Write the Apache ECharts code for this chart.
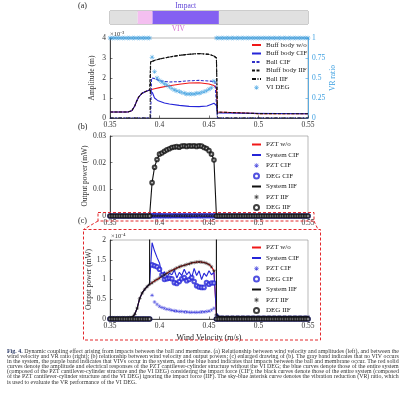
<!DOCTYPE html>
<html>
<head>
<meta charset="utf-8">
</head>
<body style="margin:0; background:#fff">
<div id="container" style="width:405px;height:399px"></div>
<script src="https://cdn.jsdelivr.net/npm/echarts@6/dist/echarts.min.js"></script>
<script>
var FONT = 'Liberation Serif';

// wind velocity sweeps (m/s): before impact, impact range, after impact
var vPre = [0.35,0.3525,0.355,0.3575,0.36,0.3625,0.365,0.3675,0.37,0.3725,0.375,0.3775,0.38,0.3825,0.385,0.3875,0.39];
var vImp = [0.3925,0.395,0.3975,0.4,0.4025,0.405,0.4075,0.41,0.4125,0.415,0.4175,0.42,0.4225,0.425,0.4275,0.43,0.4325,0.435,0.4375,0.44,0.4425,0.445,0.4475,0.45,0.4525,0.455];
var vPost = [0.4575,0.46,0.4625,0.465,0.4675,0.47,0.4725,0.475,0.4775,0.48,0.4825,0.485,0.4875,0.49,0.4925,0.495,0.4975,0.5,0.5025,0.505,0.5075,0.51,0.5125,0.515,0.5175,0.52,0.5225,0.525,0.5275,0.53,0.5325,0.535,0.5375,0.54,0.5425,0.545,0.5475,0.55];

// regime band: VIV and impact ranges
var vivRange = [0.378, 0.46];
var impactRange = [0.393, 0.46];

// (a) amplitudes, x1e-3 m, [velocity, amplitude]
var bodyWo = [[0.35,0.3],[0.368,0.3],[0.372,0.36],[0.375,0.6],[0.377,0.85],[0.379,1.05],[0.382,1.22],[0.386,1.33],[0.39,1.4],[0.395,1.46],[0.4,1.52],[0.41,1.61],[0.42,1.69],[0.43,1.75],[0.44,1.76],[0.45,1.7],[0.455,1.62],[0.4575,1.5],[0.4585,0.3],[0.46,0.25],[0.5,0.22],[0.55,0.21]];
var bodyCif = [[0.35,0.3],[0.368,0.3],[0.372,0.36],[0.375,0.6],[0.377,0.85],[0.379,1.05],[0.382,1.22],[0.386,1.33],[0.39,1.4],[0.3915,1.5],[0.393,1.25],[0.395,1.0],[0.398,0.88],[0.4,0.82],[0.405,0.75],[0.41,0.7],[0.42,0.63],[0.43,0.58],[0.44,0.57],[0.448,0.6],[0.452,0.68],[0.455,0.74],[0.4575,0.62],[0.4585,0.25],[0.46,0.23],[0.55,0.21]];
var ballCif = [[0.35,0],[0.391,0],[0.392,2.0],[0.395,1.97],[0.4,1.86],[0.41,1.8],[0.42,1.82],[0.43,1.86],[0.44,1.88],[0.45,1.85],[0.456,1.82],[0.4575,1.8],[0.4585,0],[0.55,0]];
var bodyIif = [[0.35,0.3],[0.368,0.3],[0.372,0.36],[0.375,0.6],[0.377,0.85],[0.379,1.05],[0.382,1.22],[0.386,1.33],[0.39,1.4],[0.3905,1.42],[0.391,2.8],[0.395,2.88],[0.4,2.95],[0.41,3.05],[0.42,3.13],[0.43,3.19],[0.44,3.22],[0.45,3.18],[0.455,3.1],[0.4575,3.0],[0.4585,0.3],[0.46,0.25],[0.5,0.22],[0.55,0.21]];
var ballIif = [[0.35,0],[0.3905,0],[0.391,2.8],[0.395,2.88],[0.4,2.95],[0.41,3.05],[0.42,3.13],[0.43,3.19],[0.44,3.22],[0.45,3.18],[0.455,3.1],[0.4575,3.0],[0.4585,0],[0.55,0]];

// (a) VR ratio of the VI DEG
var vrPre = [1,1,1,1,1,1,1,1,1,1,1,1,1,1,1,1,1];
var vrImp = [0.76,0.58,0.5,0.47,0.45,0.43,0.41,0.39,0.37,0.35,0.34,0.33,0.32,0.31,0.3,0.3,0.3,0.3,0.31,0.31,0.32,0.33,0.34,0.36,0.38,0.46];
var vrPost = [1,1,1,1,1,1,1,1,1,1,1,1,1,1,1,1,1,1,1,1,1,1,1,1,1,1,1,1,1,1,1,1,1,1,1,1,1,1];

// (b)/(c) output powers, x1e-4 mW
var pztWoPre = [0.03,0.03,0.03,0.03,0.03,0.03,0.03,0.03,0.035,0.05,0.12,0.28,0.52,0.66,0.75,0.82,0.88];
var pztWoImp = [0.92,0.96,1.0,1.04,1.08,1.12,1.16,1.2,1.23,1.26,1.29,1.32,1.34,1.36,1.38,1.4,1.42,1.43,1.44,1.45,1.44,1.43,1.41,1.38,1.32,1.22];
var pztWoPost = [0.1,0.06,0.05,0.05,0.05,0.05,0.05,0.05,0.05,0.05,0.05,0.05,0.05,0.05,0.05,0.05,0.05,0.05,0.05,0.05,0.05,0.05,0.05,0.05,0.05,0.05,0.05,0.05,0.05,0.05,0.05,0.05,0.05,0.05,0.05,0.05,0.05,0.05];
var sysCifImp = [1.93,1.72,1.56,1.42,1.1,1.2,1.06,1.16,1.12,1.24,1.04,1.18,1.1,1.26,1.12,1.2,1.04,1.28,1.1,1.22,1.0,1.16,1.08,1.22,1.12,1.18];
var sysCifPost = [0.15,0.06,0.05,0.05,0.05,0.05,0.05,0.05,0.05,0.05,0.05,0.05,0.05,0.05,0.05,0.05,0.05,0.05,0.05,0.05,0.05,0.05,0.05,0.05,0.05,0.05,0.05,0.05,0.05,0.05,0.05,0.05,0.05,0.05,0.05,0.05,0.05,0.05];
var pztCifImp = [0.6,0.43,0.37,0.32,0.29,0.27,0.25,0.24,0.22,0.21,0.2,0.19,0.19,0.18,0.18,0.17,0.17,0.17,0.17,0.17,0.18,0.18,0.19,0.2,0.23,0.27];
var degCifImp = [1.37,1.35,1.32,1.26,1.12,1.0,1.02,1.03,1.02,0.92,0.9,0.95,1.02,1.05,0.97,1.0,1.05,0.95,0.84,0.81,0.8,0.8,0.92,0.88,0.91,0.91];
var degIifImp = [125,183,212,232,236,243,248,252,257,259,260,258,262,263,261,263,262,263,261,263,262,257,253,245,232,210];
var degPre = [0,0,0,0,0,0,0,0,0,0,0,0,0,0,0,0,0];
var degPost = [0,0,0,0,0,0,0,0,0,0,0,0,0,0,0,0,0,0,0,0,0,0,0,0,0,0,0,0,0,0,0,0,0,0,0,0,0,0];

var captionLines = [
  'Dynamic coupling effect arising from impacts between the ball and membrane. (a) Relationship between wind velocity and amplitudes (left), and between the',
  'wind velocity and VR ratio (right); (b) relationship between wind velocity and output powers; (c) enlarged drawing of (b). The gray band indicates that no VIV occurs',
  'in the system, the purple band indicates that VIVs occur in the system, and the blue band indicates that impacts between the ball and membrane occur. The red solid',
  'curves denote the amplitude and electrical responses of the PZT cantilever-cylinder structure without the VI DEG; the blue curves denote those of the entire system',
  '(composed of the PZT cantilever-cylinder structure and the VI DEG) considering the impact force (CIF); the black curves denote those of the entire system (composed',
  'of the PZT cantilever-cylinder structure and the VI DEG) ignoring the impact force (IIF). The sky-blue asterisk curve denotes the vibration reduction (VR) ratio, which',
  'is used to evaluate the VR performance of the VI DEG.'
];

function zip(xs, ys) {
  return xs.map(function (x, i) { return [x, ys[i]]; });
}

var RED = '#f01818', BLUE = '#2525d8', BLACK = '#111', SKY = '#3a9ee0';
var ASTER = 'path://M-1,-10L1,-10L1,10L-1,10Z M-10,-1L10,-1L10,1L-10,1Z M-6.3,-7.7L7.7,6.3L6.3,7.7L-7.7,-6.3Z M6.3,-7.7L7.7,-6.3L-6.3,7.7L-7.7,6.3Z';

var dom = document.getElementById('container');
var myChart = echarts.init(dom, null, { renderer: 'canvas' });

function xAx(idx, show) {
  return {
    type: 'value', gridIndex: idx, min: 0.35, max: 0.55, interval: 0.05,
    show: show,
    axisLine: { onZero: false, lineStyle: { color: '#222', width: 0.8 } },
    axisTick: { inside: true, length: 2.5, lineStyle: { color: '#222', width: 0.6 } },
    axisLabel: {
      fontFamily: FONT, fontSize: 7.5, color: '#333', margin: 3,
      formatter: function (v) { return String(Math.round(v * 100) / 100); }
    },
    splitLine: { show: false }
  };
}

function yAx(idx, max, interval, name, fmt, extra) {
  var ax = {
    type: 'value', gridIndex: idx, min: 0, max: max, interval: interval,
    name: name, nameLocation: 'middle', nameRotate: 90, nameGap: 14,
    nameTextStyle: { fontFamily: FONT, fontSize: 7.5, color: '#333' },
    axisLine: { show: true, lineStyle: { color: '#222', width: 0.8 } },
    axisTick: { inside: true, length: 2.5, lineStyle: { color: '#222', width: 0.6 } },
    axisLabel: { fontFamily: FONT, fontSize: 7.5, color: '#333', margin: 4, formatter: fmt },
    splitLine: { show: false }
  };
  for (var k in extra) ax[k] = extra[k];
  return ax;
}

function grid(top, height, border) {
  return {
    left: 110, right: 97, top: top, height: height, show: true,
    borderColor: border || '#8a8a8a', borderWidth: 0.6, backgroundColor: 'rgba(0,0,0,0)'
  };
}

function lineS(name, data, xi, yi, color, type, z) {
  return {
    name: name, type: 'line', xAxisIndex: xi, yAxisIndex: yi, data: data,
    showSymbol: false, symbol: 'none', animation: false, z: z || 2,
    lineStyle: { color: color, width: 1.1, type: type || 'solid' },
    itemStyle: { color: color }
  };
}
function scatS(name, data, xi, yi, color, symbol, size, z) {
  var empty = symbol === 'emptyCircle';
  return {
    name: name, type: 'scatter', xAxisIndex: xi, yAxisIndex: yi, data: data,
    symbol: symbol, symbolSize: size, animation: false, z: z || 3,
    itemStyle: empty ? { color: color, borderColor: color, borderWidth: 0.8 } : { color: color }
  };
}

var powerNames = ['PZT w/o', 'System CIF', 'PZT CIF', 'DEG CIF', 'System IIF', 'PZT IIF', 'DEG IIF'];
var lineNames = ['Buff body w/o', 'Buff body CIF', 'Ball CIF', 'Bluff body IIF', 'Ball IIF', 'PZT w/o', 'System CIF', 'System IIF'];

function powerSeries(xi, yi) {
  return [
    lineS('PZT w/o', zip(vPre, pztWoPre).concat(zip(vImp, pztWoImp), zip(vPost, pztWoPost)), xi, yi, RED, 'solid', 2),
    lineS('System CIF', zip(vPre, pztWoPre).concat(zip(vImp, sysCifImp), zip(vPost, sysCifPost)), xi, yi, BLUE, 'solid', 3),
    scatS('PZT CIF', zip(vImp, pztCifImp).concat(zip(vPost, pztWoPost)), xi, yi, BLUE, ASTER, 4, 4),
    scatS('DEG CIF', zip(vPre, degPre).concat(zip(vImp, degCifImp), zip(vPost, degPost)), xi, yi, BLUE, 'emptyCircle', 3.6, 4),
    lineS('System IIF', zip(vPre, pztWoPre).concat(zip(vImp, degIifImp), zip(vPost, pztWoPost)), xi, yi, BLACK, 'solid', 5),
    scatS('PZT IIF', zip(vPre, pztWoPre).concat(zip(vImp, pztWoImp), zip(vPost, pztWoPost)), xi, yi, BLACK, ASTER, 4, 6),
    scatS('DEG IIF', zip(vPre, degPre).concat(zip(vImp, degIifImp), zip(vPost, degPost)), xi, yi, BLACK, 'emptyCircle', 3.6, 6)
  ];
}

function legendCfg(top, names, gap) {
  return {
    orient: 'vertical', left: 251, top: top, padding: 0,
    itemWidth: 9, itemHeight: 5, itemGap: gap, selectedMode: false,
    data: names.map(function (n) {
      // line entries: no marker in the icon
      return lineNames.indexOf(n) > -1 ? { name: n, itemStyle: { opacity: 0 } } : n;
    }),
    textStyle: { fontFamily: FONT, fontSize: 7, color: '#222' }
  };
}

// caption: drawn at 2x inside a group scaled by 0.5; font size per line
// so every line except the last fills the justified block width
var ctx = document.createElement('canvas').getContext('2d');
var CAP = 9.6, CAPW = 392 * 2;
var sizes = [];
captionLines.forEach(function (line, i) {
  ctx.font = 'bold ' + CAP + 'px ' + FONT;
  var lead = i === 0 ? ctx.measureText('Fig. 4. ').width : 0;
  ctx.font = CAP + 'px ' + FONT;
  var w = ctx.measureText(line).width + lead;
  sizes.push(CAP * CAPW / w);
});
var captionEls = captionLines.map(function (line, i) {
  var fs = i === captionLines.length - 1 ? sizes[i - 1] : sizes[i];
  return {
    type: 'text', x: 0, y: i * 10.34,
    style: {
      text: i === 0 ? '{b|Fig. 4.} ' + line : line,
      fontFamily: FONT, fontSize: fs, fill: '#333', verticalAlign: 'middle',
      rich: { b: { fontFamily: FONT, fontSize: fs, fontWeight: 'bold', fill: '#1f2f5f' } }
    }
  };
});

var dashRed = { stroke: '#e3262b', lineWidth: 1, lineDash: [3, 2], fill: null };
var graphics = [
  { type: 'text', x: 78, y: 6, style: { text: '(a)', fontFamily: FONT, fontSize: 8, fill: '#222', verticalAlign: 'middle' } },
  { type: 'text', x: 78, y: 127, style: { text: '(b)', fontFamily: FONT, fontSize: 8, fill: '#222', verticalAlign: 'middle' } },
  { type: 'text', x: 78, y: 221, style: { text: '(c)', fontFamily: FONT, fontSize: 8, fill: '#222', verticalAlign: 'middle' } },
  { type: 'text', x: 110, y: 34, style: { text: '×10⁻³', fontFamily: FONT, fontSize: 6.5, fill: '#333', verticalAlign: 'middle' } },
  { type: 'text', x: 111, y: 236, style: { text: '×10⁻⁴', fontFamily: FONT, fontSize: 6.5, fill: '#333', verticalAlign: 'middle' } },
  { type: 'rect', shape: { x: 98, y: 212.5, width: 216, height: 8.5 }, style: dashRed, z: 100 },
  { type: 'rect', shape: { x: 83.5, y: 229.5, width: 237, height: 110.5 }, style: dashRed, z: 100 },
  { type: 'line', shape: { x1: 98, y1: 221, x2: 83.5, y2: 229.5 }, style: dashRed, z: 100 },
  { type: 'line', shape: { x1: 314, y1: 221, x2: 318, y2: 229.5 }, style: dashRed, z: 100 },
  { type: 'group', x: 7, y: 351, scaleX: 0.5, scaleY: 0.5, children: captionEls }
];

var option = {
  backgroundColor: '#fff',
  animation: false,
  grid: [grid(11, 13, '#555'), grid(38, 80), grid(136, 80), grid(240, 79)],
  xAxis: [
    xAx(0, false), xAx(1, true), xAx(2, true),
    Object.assign(xAx(3, true), {
      name: 'Wind Velocity (m/s)', nameLocation: 'middle', nameGap: 15,
      nameTextStyle: { fontFamily: FONT, fontSize: 8, color: '#222' }
    })
  ],
  yAxis: [
    { type: 'value', gridIndex: 0, min: 0, max: 1, show: false },
    yAx(1, 4, 1, 'Amplitude (m)', null, {}),
    yAx(1, 1, 0.25, 'VR ratio', function (v) { return String(v); }, {
      position: 'right', nameGap: 17,
      nameTextStyle: { fontFamily: FONT, fontSize: 7.5, color: SKY },
      axisLine: { show: true, lineStyle: { color: SKY, width: 0.8 } },
      axisTick: { inside: true, length: 2.5, lineStyle: { color: SKY, width: 0.6 } },
      axisLabel: { fontFamily: FONT, fontSize: 7.5, color: SKY, margin: 4 }
    }),
    yAx(2, 300, 100, 'Output power (mW)', function (v) { return String(v / 10000); }, { nameGap: 20 }),
    yAx(3, 2, 0.5, 'Output power (mW)', function (v) { return String(v); }, { nameGap: 17 })
  ],
  legend: [
    legendCfg(41.5, ['Buff body w/o', 'Buff body CIF', 'Ball CIF', 'Bluff body IIF', 'Ball IIF', 'VI DEG'], 1.5),
    legendCfg(141, powerNames, 3.5),
    legendCfg(244, powerNames, 3.5)
  ],
  graphic: graphics,
  series: [
    {
      type: 'line', xAxisIndex: 0, yAxisIndex: 0, data: [[0.35, 0], [0.55, 0]],
      symbol: 'none', lineStyle: { opacity: 0 }, silent: true,
      markArea: {
        silent: true,
        label: { show: false },
        data: [
          [{ xAxis: 0.35, itemStyle: { color: '#e0e0e0' } }, { xAxis: vivRange[0] }],
          [{ xAxis: vivRange[0], itemStyle: { color: '#f4bff0' } }, { xAxis: impactRange[0] }],
          [{ xAxis: impactRange[0], name: 'Impact', itemStyle: { color: '#8460f2' },
             label: { show: true, position: 'top', distance: 1, fontFamily: FONT, fontSize: 7.5, color: '#5b3fd6' } },
           { xAxis: impactRange[1] }],
          [{ xAxis: impactRange[1], itemStyle: { color: '#e0e0e0' } }, { xAxis: 0.55 }],
          [{ xAxis: vivRange[0], name: 'VIV', itemStyle: { color: 'rgba(0,0,0,0)' },
             label: { show: true, position: 'bottom', distance: 1, fontFamily: FONT, fontSize: 7.5, color: '#d46ad0' } },
           { xAxis: vivRange[1] }]
        ]
      }
    },
    lineS('Buff body w/o', bodyWo, 1, 1, RED, 'solid', 2),
    lineS('Buff body CIF', bodyCif, 1, 1, BLUE, 'solid', 3),
    lineS('Ball CIF', ballCif, 1, 1, '#3030c8', [3, 1.5], 3),
    lineS('Bluff body IIF', bodyIif, 1, 1, BLACK, [3, 1.5], 4),
    lineS('Ball IIF', ballIif, 1, 1, BLACK, [4, 1.5, 1, 1.5], 4),
    scatS('VI DEG', zip(vPre, vrPre).concat(zip(vImp, vrImp), zip(vPost, vrPost)), 1, 2, SKY, ASTER, 5, 6)
  ].concat(powerSeries(2, 3), powerSeries(3, 4))
};

if (option && typeof option === 'object') {
  myChart.setOption(option);
}
</script>
</body>
</html>
